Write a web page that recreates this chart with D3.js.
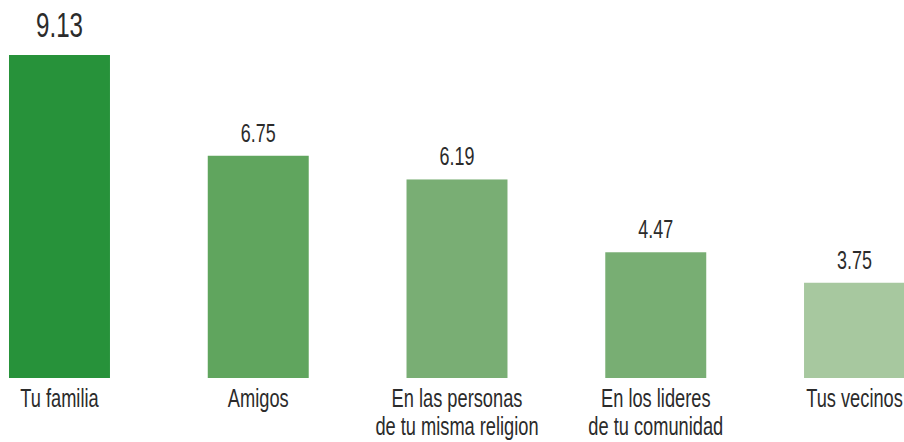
<!DOCTYPE html>
<html>
<head>
<meta charset="utf-8">
<script src="https://cdn.jsdelivr.net/npm/d3@7"></script>
<style>
  html, body { margin: 0; padding: 0; background: #fff; }
  svg text { font-family: 'Liberation Sans', Arial, sans-serif; fill: #2b2b2b; }
</style>
</head>
<body>
<div class="container"></div>
<script>
const categories = [
    ['Tu familia'],
    ['Amigos'],
    ['En las personas', 'de tu misma religion'],
    ['En los lideres', 'de tu comunidad'],
    ['Tus vecinos']
];
const values = [9.13, 6.75, 6.19, 4.47, 3.75];
const barColors = ['#27923a', '#60a55e', '#79ae74', '#78ae73', '#a7c89f'];

const w = 904,
    h = 442,
    baseline = 378,
    labelSqueeze = 0.73,
    valueSqueeze = 0.69;

const xScale = d3.scaleBand()
    .domain(d3.range(values.length))
    .range([-39.9, 953.9])
    .paddingInner(0.492)
    .paddingOuter(0.246);

// the picture's bars start well above zero, so the scale does too
const yScale = d3.scaleLinear()
    .domain([1.5, d3.max(values)])
    .range([baseline, 55]);

const svg = d3.select("div.container")
    .append("svg")
    .attr("width", w)
    .attr("height", h);

svg.selectAll("rect.bar")
    .data(values)
    .enter()
    .append("rect")
    .attr("class", "bar")
    .attr("x", (d, i) => xScale(i))
    .attr("y", d => yScale(d))
    .attr("width", xScale.bandwidth())
    .attr("height", d => baseline - yScale(d))
    .attr("fill", (d, i) => barColors[i]);

const cx = i => xScale(i) + xScale.bandwidth() / 2;

svg.selectAll("text.value")
    .data(values)
    .enter()
    .append("text")
    .attr("class", "value")
    .attr("text-anchor", "middle")
    .attr("font-size", (d, i) => i === 0 ? 35 : 26)
    .attr("transform", (d, i) => "translate(" + cx(i) + "," + (yScale(d) - (i === 0 ? 18 : 14)) + ") scale(" + valueSqueeze + ",1)")
    .text(d => d.toFixed(2));

const labels = svg.selectAll("g.label")
    .data(categories)
    .enter()
    .append("g")
    .attr("class", "label")
    .attr("transform", (d, i) => "translate(" + cx(i) + "," + (baseline + 29) + ") scale(" + labelSqueeze + ",1)");

labels.selectAll("text")
    .data(d => d)
    .enter()
    .append("text")
    .attr("text-anchor", "middle")
    .attr("font-size", 25)
    .attr("y", (d, j) => j * 28)
    .text(d => d);
</script>
</body>
</html>
